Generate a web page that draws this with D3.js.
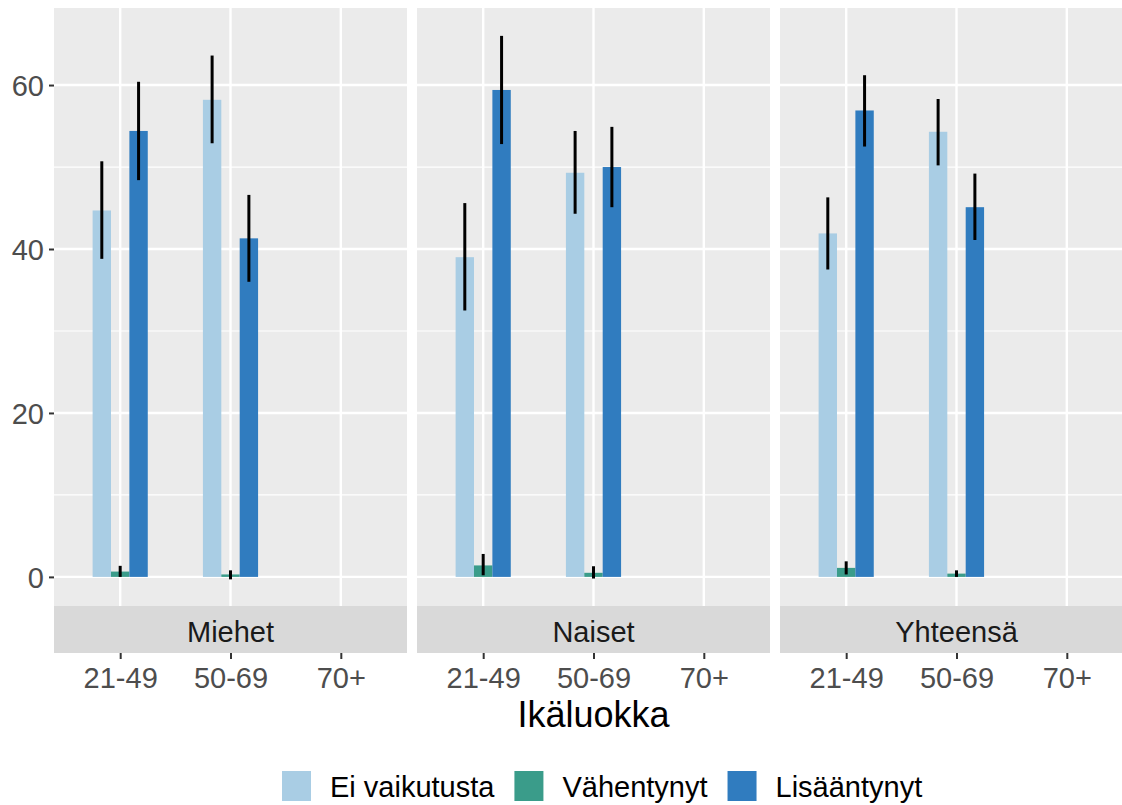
<!DOCTYPE html>
<html>
<head>
<meta charset="utf-8">
<script src="https://cdn.jsdelivr.net/npm/d3@7"></script>
<style>
  body { margin: 0; background: #fff; }
  text { font-family: "Liberation Sans", Arial, sans-serif; }
</style>
</head>
<body>
<div id="chart"></div>
<script>
const facets = ["Miehet", "Naiset", "Yhteensä"];
const ageGroups = ["21-49", "50-69", "70+"];
const seriesNames = ["Ei vaikutusta", "Vähentynyt", "Lisääntynyt"];
const seriesColors = ["#a9cde4", "#3a9c8a", "#307cbf"];
const yTicks = [0, 20, 40, 60];

// values per facet (rows) and age group (columns); 70+ has no data
const eiValue = [[44.7, 58.2, null], [39.0, 49.3, null], [41.9, 54.3, null]];
const eiLow   = [[38.8, 52.9, null], [32.5, 44.3, null], [37.5, 50.2, null]];
const eiHigh  = [[50.7, 63.6, null], [45.6, 54.4, null], [46.3, 58.3, null]];

const vahValue = [[0.65, 0.3, null], [1.4, 0.5, null], [1.1, 0.4, null]];
const vahLow   = [[0.0, -0.3, null], [0.2, -0.2, null], [0.3, 0.0, null]];
const vahHigh  = [[1.35, 0.8, null], [2.8, 1.3, null], [1.9, 0.8, null]];

const lisValue = [[54.4, 41.3, null], [59.4, 50.0, null], [56.9, 45.1, null]];
const lisLow   = [[48.4, 36.0, null], [52.8, 45.1, null], [52.5, 41.1, null]];
const lisHigh  = [[60.4, 46.6, null], [66.0, 54.9, null], [61.2, 49.2, null]];

const seriesValues = [eiValue, vahValue, lisValue];
const seriesLow = [eiLow, vahLow, lisLow];
const seriesHigh = [eiHigh, vahHigh, lisHigh];

const rows = [];
facets.forEach((f, fi) => {
  ageGroups.forEach((a, ai) => {
    seriesNames.forEach((s, si) => {
      const v = seriesValues[si][fi][ai];
      if (v == null) return;
      rows.push({ facet: f, age: a, series: s, value: v,
        low: seriesLow[si][fi][ai], high: seriesHigh[si][fi][ai] });
    });
  });
});

const width = 1122;
const height = 805;
const panelTop = 8, panelBottom = 606, stripBottom = 653;
const tickSize = 29, titleSize = 36;

const svg = d3.select("#chart").append("svg")
  .attr("width", width)
  .attr("height", height)
  .style("display", "block");

const fx = d3.scaleBand().domain(facets).range([54, 1133]).paddingInner(10 / 363);
const y = d3.scaleLinear().domain([-3.55, 69.4]).range([panelBottom, panelTop]);
const color = d3.scaleOrdinal().domain(seriesNames).range(seriesColors);

const minorTicks = [10, 30, 50];

facets.forEach(f => {
  const x0 = fx(f);
  const x = d3.scalePoint().domain(ageGroups).range([x0, x0 + fx.bandwidth()]).padding(0.6);
  const xs = d3.scaleBand().domain(seriesNames).range([-x.step() / 4, x.step() / 4]);

  const g = svg.append("g");

  g.append("rect")
    .attr("x", x0).attr("y", panelTop)
    .attr("width", fx.bandwidth()).attr("height", panelBottom - panelTop)
    .attr("fill", "#ebebeb");

  g.selectAll("line.minor").data(minorTicks).join("line")
    .attr("class", "minor")
    .attr("x1", x0).attr("x2", x0 + fx.bandwidth())
    .attr("y1", d => y(d)).attr("y2", d => y(d))
    .attr("stroke", "#fff").attr("stroke-width", 1.2);

  g.selectAll("line.majorY").data(yTicks).join("line")
    .attr("class", "majorY")
    .attr("x1", x0).attr("x2", x0 + fx.bandwidth())
    .attr("y1", d => y(d)).attr("y2", d => y(d))
    .attr("stroke", "#fff").attr("stroke-width", 2.4);

  g.selectAll("line.majorX").data(ageGroups).join("line")
    .attr("class", "majorX")
    .attr("x1", d => x(d)).attr("x2", d => x(d))
    .attr("y1", panelTop).attr("y2", panelBottom)
    .attr("stroke", "#fff").attr("stroke-width", 2.4);

  const data = rows.filter(d => d.facet === f);

  g.selectAll("rect.bar").data(data).join("rect")
    .attr("class", "bar")
    .attr("x", d => x(d.age) + xs(d.series))
    .attr("width", xs.bandwidth())
    .attr("y", d => y(Math.max(0, d.value)))
    .attr("height", d => Math.abs(y(0) - y(d.value)))
    .attr("fill", d => color(d.series));

  g.selectAll("line.err").data(data).join("line")
    .attr("class", "err")
    .attr("x1", d => x(d.age) + xs(d.series) + xs.bandwidth() / 2)
    .attr("x2", d => x(d.age) + xs(d.series) + xs.bandwidth() / 2)
    .attr("y1", d => y(d.low)).attr("y2", d => y(d.high))
    .attr("stroke", "#000").attr("stroke-width", 3);

  // strip at bottom
  g.append("rect")
    .attr("x", x0).attr("y", panelBottom)
    .attr("width", fx.bandwidth()).attr("height", stripBottom - panelBottom)
    .attr("fill", "#d9d9d9");
  g.append("text")
    .attr("x", x0 + fx.bandwidth() / 2).attr("y", 642)
    .attr("text-anchor", "middle")
    .attr("font-size", tickSize).attr("fill", "#1a1a1a")
    .text(f);

  // x axis
  const xAxis = g.append("g")
    .attr("transform", `translate(0,${stripBottom})`)
    .call(d3.axisBottom(x).tickSize(6).tickPadding(4));
  xAxis.select(".domain").remove();
  xAxis.selectAll(".tick line").attr("stroke", "#333").attr("stroke-width", 2);
  xAxis.selectAll(".tick text")
    .attr("font-size", tickSize).attr("fill", "#4d4d4d")
    .attr("font-family", null).attr("dy", null).attr("y", 35);
});

// y axis
const yAxis = svg.append("g")
  .attr("transform", `translate(54,0)`)
  .call(d3.axisLeft(y).tickValues(yTicks).tickSize(5).tickPadding(5));
yAxis.select(".domain").remove();
yAxis.attr("font-family", null);
yAxis.selectAll(".tick line").attr("stroke", "#333").attr("stroke-width", 2);
yAxis.selectAll(".tick text")
  .attr("font-size", tickSize).attr("fill", "#4d4d4d").attr("dy", "0.36em");

// axis title
svg.append("text")
  .attr("x", (fx.range()[0] + fx.range()[1]) / 2)
  .attr("y", 727)
  .attr("text-anchor", "middle")
  .attr("font-size", titleSize).attr("fill", "#000")
  .text("Ikäluokka");

// legend
const legend = svg.append("g");
let lx = 282;
seriesNames.forEach(s => {
  legend.append("rect")
    .attr("x", lx).attr("y", 771).attr("width", 29).attr("height", 30)
    .attr("fill", color(s));
  const t = legend.append("text")
    .attr("x", lx + 29 + 19).attr("y", 797)
    .attr("font-size", tickSize).attr("fill", "#000")
    .text(s);
  lx += 29 + 19 + t.node().getComputedTextLength() + 20;
});
</script>
</body>
</html>
